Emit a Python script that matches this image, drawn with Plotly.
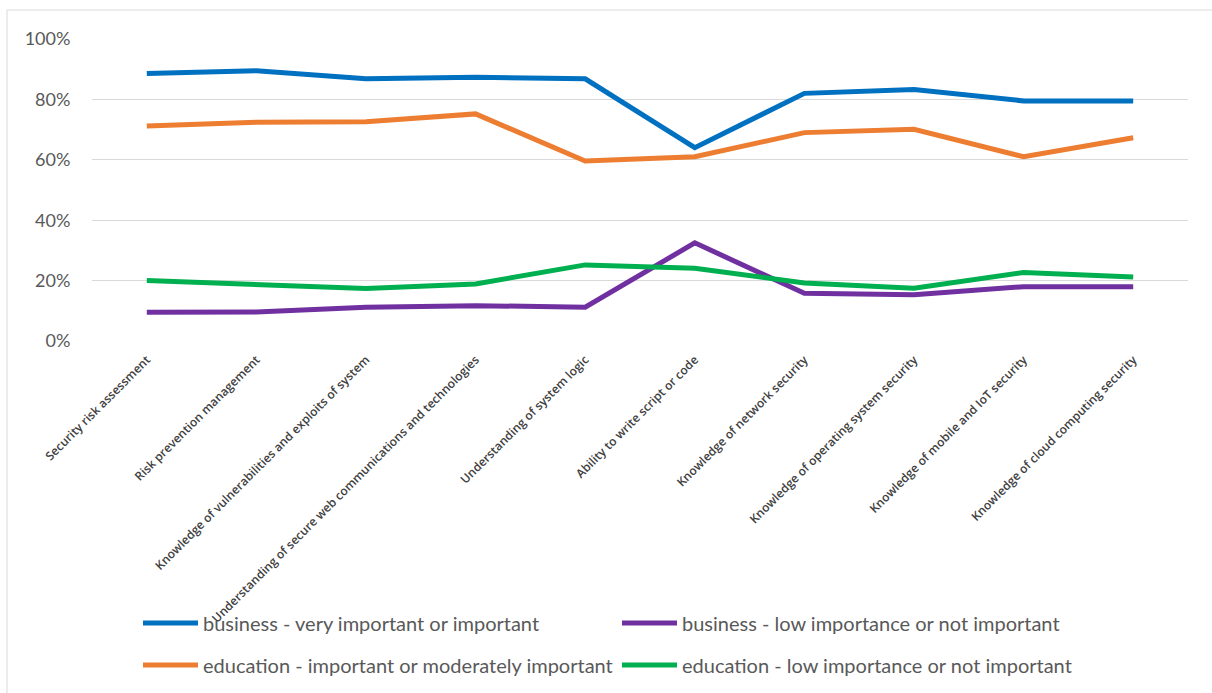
import plotly.graph_objects as go

skills = [
    "Security risk assessment",
    "Risk prevention management",
    "Knowledge of vulnerabilities and exploits of system",
    "Understanding of secure web communications and technologies",
    "Understanding of system logic",
    "Ability to write script or code",
    "Knowledge of network security",
    "Knowledge of operating system security",
    "Knowledge of mobile and IoT security",
    "Knowledge of cloud computing security",
]

business_important = [88.6, 89.5, 86.8, 87.3, 86.8, 64.0, 82.0, 83.3, 79.5, 79.5]
business_low = [9.5, 9.6, 11.2, 11.7, 11.2, 32.5, 15.8, 15.3, 18.0, 18.0]
education_important = [71.2, 72.4, 72.6, 75.2, 59.6, 61.0, 69.0, 70.1, 61.0, 67.3]
education_low = [20.0, 18.8, 17.4, 18.9, 25.2, 24.1, 19.2, 17.5, 22.7, 21.2]

series = [
    ("business - very important or important", business_important, "#0070C0", "legend"),
    ("education - important or moderately important", education_important, "#ED7D31", "legend2"),
    ("business - low importance or not important", business_low, "#7030A0", "legend"),
    ("education - low importance or not important", education_low, "#00B050", "legend2"),
]

W, H = 1212, 693
ML, MR, MT, MB = 92, 24, 39, 352
pw, ph = W - ML - MR, H - MT - MB

fig = go.Figure()
for name, vals, color, leg in series:
    fig.add_trace(go.Scatter(
        x=skills, y=vals, name=name, mode="lines",
        line=dict(color=color, width=5), legend=leg,
    ))

legend_font = dict(family="Lato, 'Open Sans', sans-serif", size=20, color="#595959")


def px_x(v):
    return (v - ML) / pw


def px_y(v):
    return (H - MB - v) / ph


legend_common = dict(
    orientation="h", xanchor="left", yanchor="middle",
    entrywidth=409, entrywidthmode="pixels", font=legend_font,
    bgcolor="rgba(0,0,0,0)", itemwidth=55,
)

fig.update_layout(
    width=W, height=H,
    margin=dict(l=ML, r=MR, t=MT, b=MB, autoexpand=False),
    paper_bgcolor="white", plot_bgcolor="white",
    font=dict(family="Lato, sans-serif", color="#595959"),
    xaxis=dict(
        type="category", range=[-0.5, len(skills) - 0.5], tickangle=-45,
        showgrid=False, showline=False, zeroline=False,
        ticks="outside", ticklen=6, tickcolor="rgba(0,0,0,0)",
        tickfont=dict(family="'Open Sans', sans-serif", size=12, weight=600, color="#404040"),
    ),
    yaxis=dict(
        range=[0, 100], dtick=20, ticksuffix="%", showgrid=True,
        gridcolor="#D9D9D9", gridwidth=1, zeroline=False, showline=False,
        ticks="outside", ticklen=17, tickcolor="rgba(0,0,0,0)",
        tickfont=dict(family="Lato, sans-serif", size=18, color="#595959"),
    ),
    legend=dict(x=px_x(138), y=px_y(623), **legend_common),
    legend2=dict(x=px_x(138), y=px_y(665), **legend_common),
    showlegend=True,
    shapes=[dict(
        type="rect", xref="paper", yref="paper",
        x0=px_x(7), x1=px_x(1230), y0=px_y(720), y1=px_y(10),
        line=dict(color="#D9D9D9", width=1), fillcolor="rgba(0,0,0,0)", layer="below",
    )],
)

fig.write_html("out.html")
